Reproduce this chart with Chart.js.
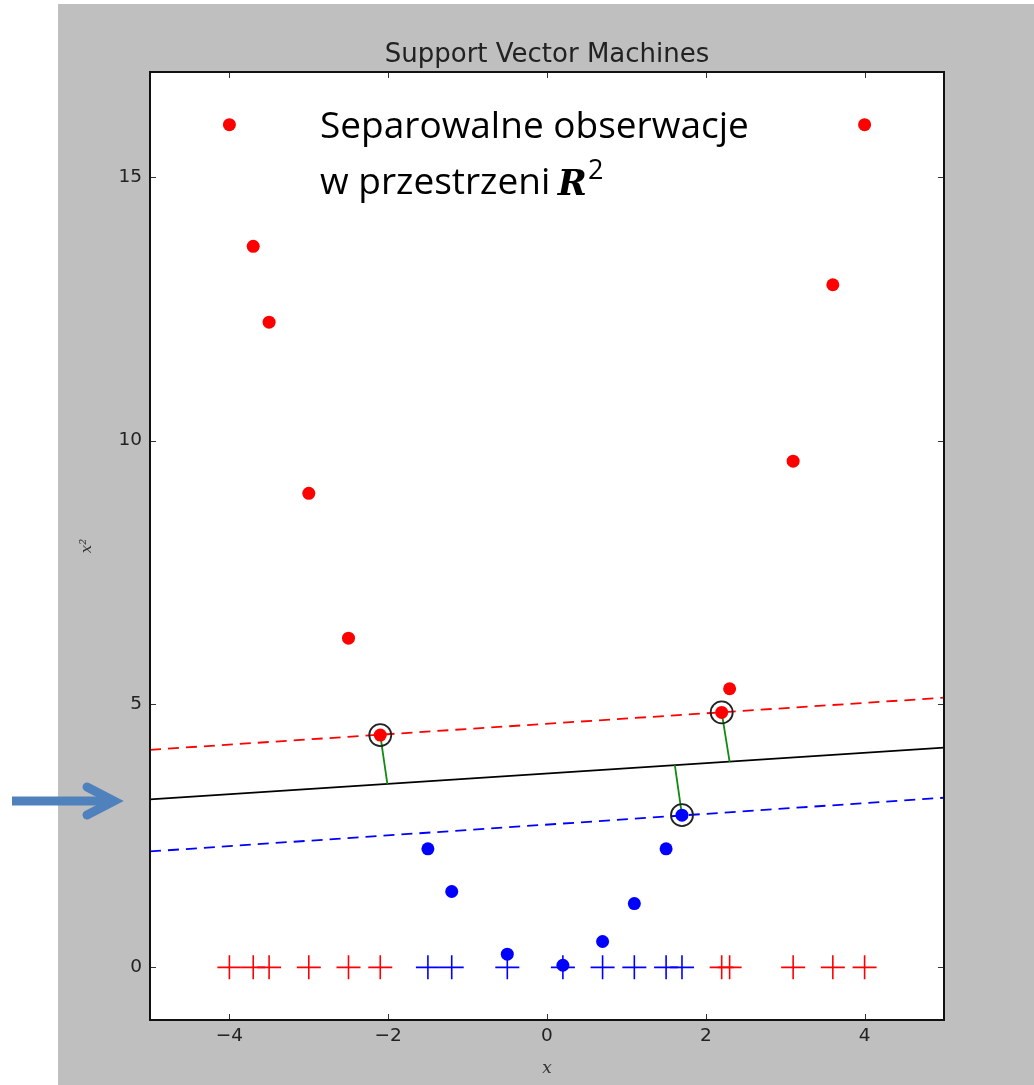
<!DOCTYPE html>
<html>
<head>
<meta charset="utf-8">
<script src="https://cdn.jsdelivr.net/npm/chart.js@4"></script>
<style>
  body { margin: 0; background: #fff; }
</style>
</head>
<body>
<canvas id="myChart" width="1034" height="1085"></canvas>
<script>
// data
const redX = [-4, -3.7, -3.5, -3, -2.5, -2.1, 2.2, 2.3, 3.1, 3.6, 4];
const redY = [16, 13.69, 12.25, 9, 6.25, 4.41, 4.84, 5.29, 9.61, 12.96, 16];
const blueX = [-1.5, -1.2, -0.5, 0.2, 0.7, 1.1, 1.5, 1.7];
const blueY = [2.25, 1.44, 0.25, 0.04, 0.49, 1.21, 2.25, 2.89];

// support vectors and their feet on the decision line
const svX = [-2.1, 2.2, 1.7];
const svY = [4.41, 4.84, 2.89];
const footX = [-2.01, 2.3, 1.61];
const footY = [3.48, 3.9, 3.84];

// lines across the whole x range
const lineX = [-5, 5];
const decisionY = [3.19, 4.17];
const redMarginY = [4.13, 5.12];
const blueMarginY = [2.2, 3.22];

const xTicks = [-4, -2, 0, 2, 4];
const yTicks = [0, 5, 10, 15];

const chartTitle = 'Support Vector Machines';
const noteLines = ['Separowalne obserwacje', 'w przestrzeni '];

function pts(xs, ys) {
    return xs.map((x, i) => ({ x: x, y: ys[i] }));
}

const greenSets = svX.map((x, i) => ({
    data: [{ x: x, y: svY[i] }, { x: footX[i], y: footY[i] }],
    showLine: true,
    borderColor: '#108a10',
    borderWidth: 1.8,
    pointRadius: 0,
    order: 4,
}));

const decor = {
    id: 'decor',
    beforeDraw(chart) {
        const c = chart.ctx, a = chart.chartArea;
        c.save();
        c.fillStyle = '#ffffff';
        c.fillRect(0, 0, chart.width, chart.height);
        c.fillStyle = '#bfbfbf';
        c.fillRect(58, 4, chart.width - 58, chart.height - 4);
        c.fillStyle = '#ffffff';
        c.fillRect(a.left, a.top, a.right - a.left, a.bottom - a.top);
        c.restore();
    },
    afterDraw(chart) {
        const c = chart.ctx, a = chart.chartArea;
        const xs = chart.scales.x, ys = chart.scales.y;
        c.save();
        // inward ticks on all four sides
        c.strokeStyle = '#333';
        c.lineWidth = 1;
        c.beginPath();
        xTicks.forEach(v => {
            const px = Math.round(xs.getPixelForValue(v)) + 0.5;
            c.moveTo(px, a.bottom); c.lineTo(px, a.bottom - 6);
            c.moveTo(px, a.top); c.lineTo(px, a.top + 6);
        });
        yTicks.forEach(v => {
            const py = Math.round(ys.getPixelForValue(v)) + 0.5;
            c.moveTo(a.left, py); c.lineTo(a.left + 6, py);
            c.moveTo(a.right, py); c.lineTo(a.right - 6, py);
        });
        c.stroke();
        // frame
        c.lineWidth = 2;
        c.strokeStyle = '#111';
        c.strokeRect(a.left, a.top, a.right - a.left, a.bottom - a.top);

        // title
        c.fillStyle = '#222';
        c.font = '26px "DejaVu Sans"';
        c.textAlign = 'center';
        c.textBaseline = 'alphabetic';
        c.fillText(chartTitle, (a.left + a.right) / 2, a.top - 10);

        // note text
        c.textAlign = 'left';
        c.fillStyle = '#000';
        c.font = '37px "Open Sans"';
        c.fillText(noteLines[0], 320, 138);
        c.fillText(noteLines[1], 320, 194);
        const w = c.measureText(noteLines[1]).width;
        c.font = 'italic bold 35px "DejaVu Serif"';
        c.fillText('R', 318 + w, 195);
        const wr = c.measureText('R').width;
        c.font = '27px "Open Sans"';
        c.fillText('2', 318 + w + wr + 1, 179);

        // arrow
        c.strokeStyle = '#4f81bd';
        c.lineWidth = 9;
        c.beginPath();
        c.moveTo(12, 801); c.lineTo(112, 801);
        c.stroke();
        c.lineCap = 'round';
        c.beginPath();
        c.moveTo(87, 787); c.lineTo(114, 801); c.lineTo(87, 815);
        c.stroke();
        c.restore();
    }
};

const ctx = document.getElementById('myChart');

new Chart(ctx, {
    type: 'scatter',
    data: {
        datasets: [
            {
                data: pts(lineX, decisionY),
                showLine: true, borderColor: '#000', borderWidth: 1.8,
                pointRadius: 0, order: 5,
            },
            {
                data: pts(lineX, redMarginY),
                showLine: true, borderColor: '#ff0000', borderWidth: 1.8,
                borderDash: [11, 7], pointRadius: 0, order: 5,
            },
            {
                data: pts(lineX, blueMarginY),
                showLine: true, borderColor: '#0000ff', borderWidth: 1.8,
                borderDash: [11, 7], pointRadius: 0, order: 5,
            },
            ...greenSets,
            {
                data: redX.map(x => ({ x: x, y: 0 })),
                pointStyle: 'cross', pointRadius: 12, borderColor: '#ff0000',
                borderWidth: 1.6, order: 3,
            },
            {
                data: blueX.map(x => ({ x: x, y: 0 })),
                pointStyle: 'cross', pointRadius: 12, borderColor: '#0000ff',
                borderWidth: 1.6, order: 3,
            },
            {
                data: pts(redX, redY),
                pointRadius: 6.5, backgroundColor: '#ff0000', borderColor: '#ff0000',
                borderWidth: 0, order: 2,
            },
            {
                data: pts(blueX, blueY),
                pointRadius: 6.5, backgroundColor: '#0000ff', borderColor: '#0000ff',
                borderWidth: 0, order: 2,
            },
            {
                data: pts(svX, svY),
                pointRadius: 11, backgroundColor: 'rgba(0,0,0,0)', borderColor: '#222',
                borderWidth: 1.8, order: 1,
            },
        ]
    },
    options: {
        responsive: false,
        animation: false,
        events: [],
        layout: {
            padding: { left: 58, right: 90, top: 72, bottom: 0 }
        },
        plugins: {
            legend: { display: false },
            tooltip: { enabled: false },
        },
        scales: {
            x: {
                type: 'linear',
                min: -5,
                max: 5,
                grid: { display: false, drawTicks: false },
                border: { display: false },
                afterBuildTicks: s => { s.ticks = xTicks.map(v => ({ value: v })); },
                afterFit: s => { s.height = 65; },
                ticks: {
                    color: '#222',
                    padding: 5,
                    font: { family: 'DejaVu Sans', size: 18.5 },
                    callback: v => String(v).replace('-', '\u2212'),
                },
                title: {
                    display: true,
                    text: 'x',
                    color: '#333',
                    font: { family: 'DejaVu Serif', style: 'italic', size: 17 },
                    padding: { top: 0, bottom: 6 },
                }
            },
            y: {
                type: 'linear',
                min: -1,
                max: 17,
                grid: { display: false, drawTicks: false },
                border: { display: false },
                afterBuildTicks: s => { s.ticks = yTicks.map(v => ({ value: v })); },
                afterFit: s => { s.width = 92; },
                ticks: {
                    color: '#222',
                    padding: 8,
                    font: { family: 'DejaVu Sans', size: 18.5 },
                },
                title: {
                    display: true,
                    text: 'x\u00b2',
                    color: '#333',
                    font: { family: 'DejaVu Serif', style: 'italic', size: 15 },
                    padding: { top: 20, bottom: 0 },
                }
            }
        }
    },
    plugins: [decor]
});
</script>
</body>
</html>
